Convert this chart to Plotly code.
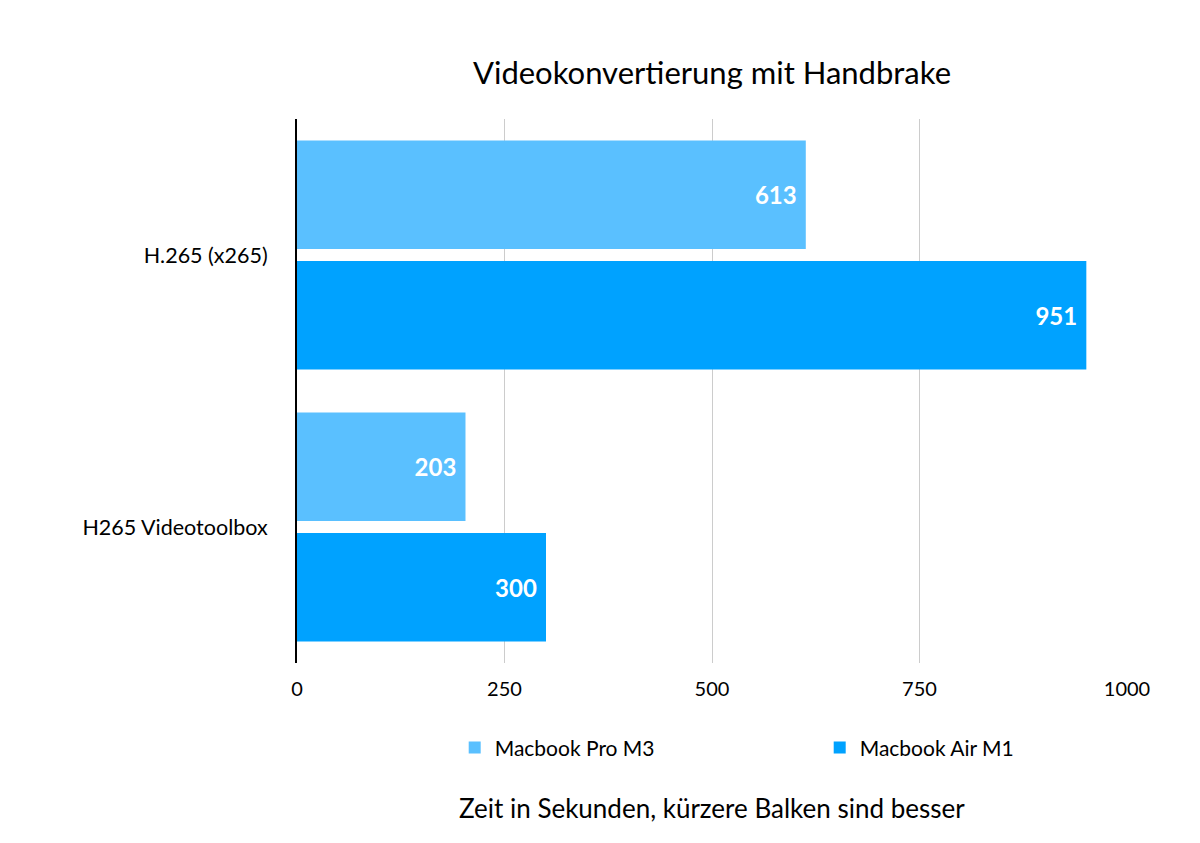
import plotly.graph_objects as go

categories = ["H.265 (x265)", "H265 Videotoolbox"]
series_names = ["Macbook Pro M3", "Macbook Air M1"]
pro_m3 = [613, 203]
air_m1 = [951, 300]
x_ticks = [0, 250, 500, 750, 1000]

colors = ["#5ac0ff", "#00a2ff"]
font_family = "Lato, 'Open Sans', sans-serif"

fig = go.Figure()
for name, vals, col in zip(series_names, [pro_m3, air_m1], colors):
    fig.add_trace(go.Bar(
        y=categories, x=vals, name=name, orientation='h',
        marker=dict(color=col, line=dict(width=0)),
        text=[f"<b>{v}</b>\u00a0" for v in vals],
        textposition='inside', insidetextanchor='end',
        textfont=dict(color='white', size=24, family=font_family),
    ))

# page body adds an 8px offset, so the figure is drawn 8px smaller
fig.update_layout(
    width=1192, height=835,
    paper_bgcolor='white', plot_bgcolor='white',
    font=dict(family=font_family, color='black', size=20),
    title=dict(text='Videokonvertierung mit Handbrake', x=704 / 1192,
               xanchor='center', y=1 - 65 / 835, yanchor='middle',
               font=dict(size=31, color='black')),
    barmode='group', bargap=0.114, bargroupgap=0.1,
    margin=dict(l=289, r=73, t=111, b=180, autoexpand=False),
    showlegend=True,
    legend=dict(orientation='h', x=0.19, xanchor='left', y=-0.156, yanchor='middle',
                entrywidth=320, entrywidthmode='pixels',
                font=dict(size=21), traceorder='normal'),
    xaxis=dict(range=[0, 1000], tickvals=x_ticks, showgrid=True, gridcolor='#cccccc',
               gridwidth=1, zeroline=False, showline=False, ticks='',
               tickfont=dict(size=20), ticklabelstandoff=12),
    yaxis=dict(autorange='reversed', showline=True, linecolor='black', linewidth=2,
               ticks='', ticklabelstandoff=23, tickfont=dict(size=21.5)),
    annotations=[dict(text='Zeit in Sekunden, kürzere Balken sind besser',
                      xref='paper', yref='paper', x=0.5, y=-(808 - 663) / 544,
                      xanchor='center', yanchor='middle', showarrow=False,
                      font=dict(size=26, color='black'))],
)

fig.write_html("out.html")
